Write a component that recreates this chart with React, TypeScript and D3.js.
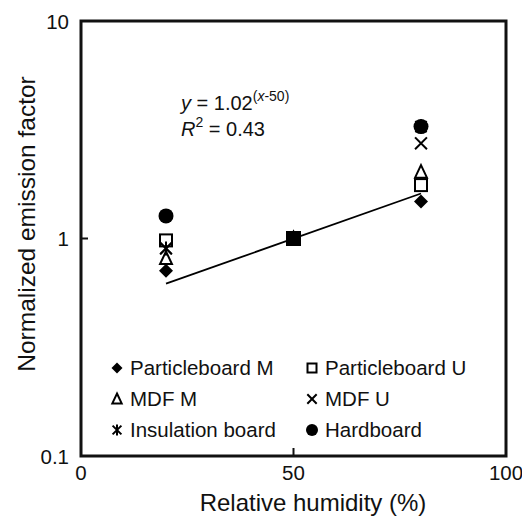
import React from "react";
import * as d3 from "d3";

const RH = [20, 50, 80];
const particleboardM = [0.71, 1, 1.48];
const particleboardU = [0.98, 1, 1.76];
const mdfM = [0.81, 1, 2.02];
const mdfU = [0.9, 1, 2.74];
const insulationBoard = [0.9, 1, 3.27];
const hardboard = [1.27, 1, 3.27];

// normalisation reference point (all boards = 1 at 50 % RH), drawn as a filled square
const referenceRH = [50];
const referenceValue = [1];

const trendX = [20, 80];
const trendY = [0.62, 1.61];

const xTicks = [0, 50, 100];
const yTicks = [0.1, 1, 10];
const yTickLabels = ["0.1", "1", "10"];

type Kind = "diamond" | "square" | "triangle" | "x" | "asterisk" | "circle";

const seriesList: { name: string; kind: Kind; values: number[] }[] = [
  { name: "Particleboard M", kind: "diamond", values: particleboardM },
  { name: "Particleboard U", kind: "square", values: particleboardU },
  { name: "MDF M", kind: "triangle", values: mdfM },
  { name: "MDF U", kind: "x", values: mdfU },
  { name: "Insulation board", kind: "asterisk", values: insulationBoard },
  { name: "Hardboard", kind: "circle", values: hardboard },
];

const FONT = "'Liberation Sans', Arial, Helvetica, sans-serif";

function Marker({ kind, cx, cy, s }: { kind: Kind; cx: number; cy: number; s: number }) {
  const h = s / 2;
  switch (kind) {
    case "diamond":
      return (
        <path
          d={`M${cx},${cy - h}L${cx + h},${cy}L${cx},${cy + h}L${cx - h},${cy}Z`}
          fill="#000"
        />
      );
    case "square":
      return (
        <rect x={cx - h + 1} y={cy - h + 1} width={s - 2} height={s - 2} fill="none" stroke="#000" strokeWidth={2} />
      );
    case "triangle":
      return (
        <path
          d={`M${cx},${cy - h}L${cx + h * 0.85},${cy + h * 0.8}L${cx - h * 0.85},${cy + h * 0.8}Z`}
          fill="none"
          stroke="#000"
          strokeWidth={2}
          strokeLinejoin="miter"
        />
      );
    case "x": {
      const a = h * 0.85;
      return (
        <path
          d={`M${cx - a},${cy - a}L${cx + a},${cy + a}M${cx - a},${cy + a}L${cx + a},${cy - a}`}
          stroke="#000"
          strokeWidth={2}
        />
      );
    }
    case "asterisk": {
      const a = h * 0.8;
      return (
        <path
          d={`M${cx - a},${cy - a}L${cx + a},${cy + a}M${cx - a},${cy + a}L${cx + a},${cy - a}M${cx},${cy - h}L${cx},${cy + h}`}
          stroke="#000"
          strokeWidth={2}
        />
      );
    }
    case "circle":
      return <circle cx={cx} cy={cy} r={h} fill="#000" />;
  }
}

export default function App() {
  const W = 522;
  const H = 517;
  const left = 81,
    right = 506,
    top = 21,
    bottom = 456;
  const x = d3.scaleLinear().domain([0, 100]).range([left, right]);
  const y = d3.scaleLog().domain([0.1, 10]).range([bottom, top]);

  const line = d3
    .line<number>()
    .x((_, i) => x(trendX[i]))
    .y((d) => y(d));

  const legendCols = [117, 312];
  const legendRows = [375, 406, 437];
  const refSize = 15;

  return (
    <svg
      width={W}
      height={H}
      style={{ position: "absolute", left: 0, top: 0, background: "#fff" }}
      fontFamily={FONT}
    >
      {/* trend line */}
      <path d={line(trendY) || ""} fill="none" stroke="#000" strokeWidth={1.8} />

      {/* data markers */}
      {seriesList.map((s) =>
        s.values.map((v, i) => (
          <Marker key={s.name + i} kind={s.kind} cx={x(RH[i])} cy={y(v)} s={s.kind === "circle" ? 15 : 14} />
        ))
      )}

      {/* reference point */}
      {referenceValue.map((v, i) => (
        <rect
          key={"ref" + i}
          x={x(referenceRH[i]) - refSize / 2}
          y={y(v) - refSize / 2}
          width={refSize}
          height={refSize}
          fill="#000"
        />
      ))}

      {/* frame */}
      <rect x={left} y={top} width={right - left} height={bottom - top} fill="none" stroke="#111" strokeWidth={3} />

      {/* inner ticks */}
      <line x1={left} x2={left + 7} y1={y(1)} y2={y(1)} stroke="#111" strokeWidth={2} />
      <line x1={x(50)} x2={x(50)} y1={bottom} y2={bottom - 8} stroke="#111" strokeWidth={2} />

      {/* y tick labels */}
      {yTicks.map((t, i) => (
        <text key={t} x={69} y={y(t) + 7.5} textAnchor="end" fontSize={20.5} fill="#111">
          {yTickLabels[i]}
        </text>
      ))}

      {/* x tick labels */}
      {xTicks.map((t) => (
        <text key={t} x={x(t)} y={480} textAnchor="middle" fontSize={20.5} fill="#111">
          {t}
        </text>
      ))}

      {/* axis titles */}
      <text x={313} y={511} textAnchor="middle" fontSize={24} fill="#111">
        Relative humidity (%)
      </text>
      <text
        transform={`translate(35,${224}) rotate(-90)`}
        textAnchor="middle"
        fontSize={24.5}
        fill="#111"
      >
        Normalized emission factor
      </text>

      {/* equation */}
      <text x={181} y={110} fontSize={20} fill="#111">
        <tspan fontStyle="italic">y</tspan>
        <tspan> = 1.02</tspan>
        <tspan fontSize={14} dy={-9}>
          (<tspan fontStyle="italic">x</tspan>-50)
        </tspan>
      </text>
      <text x={181} y={136} fontSize={20} fill="#111">
        <tspan fontStyle="italic">R</tspan>
        <tspan fontSize={14} dy={-9}>2</tspan>
        <tspan dy={9}> = 0.43</tspan>
      </text>

      {/* legend */}
      {seriesList.map((s, i) => {
        const col = i % 2;
        const row = Math.floor(i / 2);
        const mx = legendCols[col];
        const by = legendRows[row];
        return (
          <g key={s.name}>
            <Marker kind={s.kind} cx={mx} cy={by - 7} s={s.kind === "circle" ? 12 : 11} />
            <text x={mx + 13} y={by} fontSize={20.5} fill="#111">
              {s.name}
            </text>
          </g>
        );
      })}
    </svg>
  );
}
